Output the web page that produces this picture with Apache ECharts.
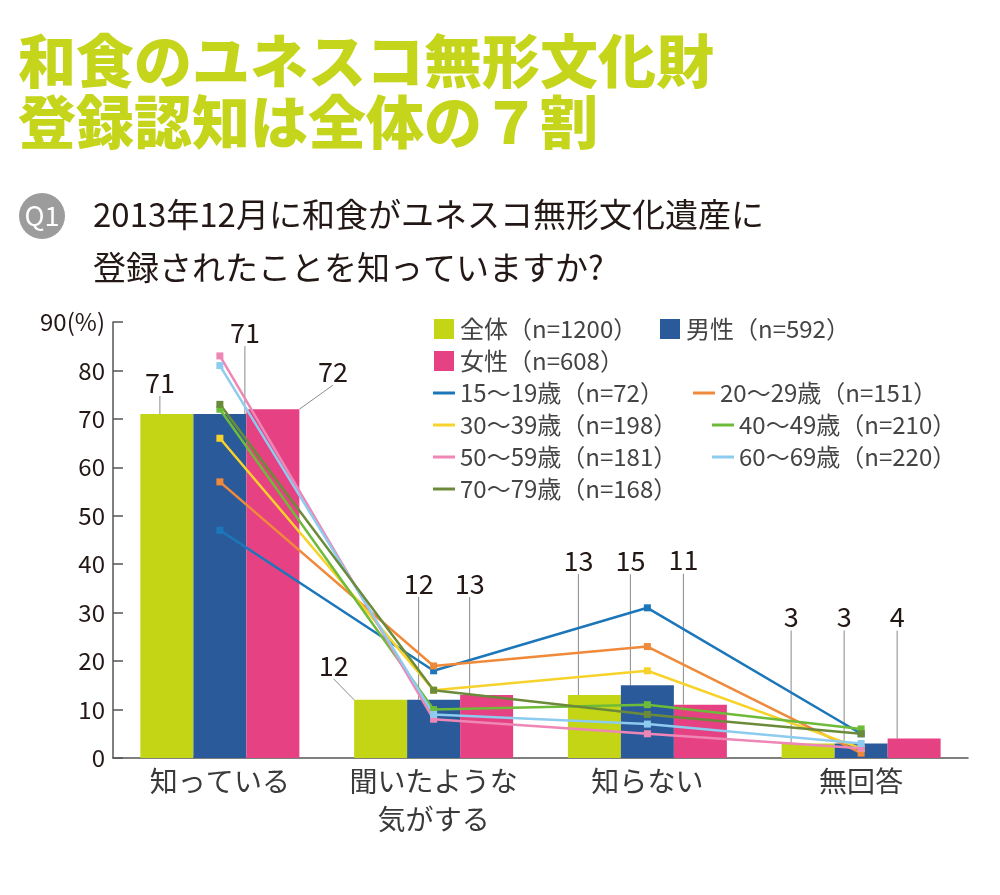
<!DOCTYPE html>
<html>
<head>
<meta charset="utf-8">
<script src="https://cdn.jsdelivr.net/npm/echarts@6/dist/echarts.min.js"></script>
<style>
  html, body { margin: 0; padding: 0; background: #fff; }
  #main { width: 1000px; height: 895px; }
</style>
</head>
<body>
<div id="main"></div>
<script>
// データ（％）
var categories = ['知っている', '聞いたような\n気がする', '知らない', '無回答'];
var yTicks = [0, 10, 20, 30, 40, 50, 60, 70, 80, 90];

var barNames = ['全体（n=1200）', '男性（n=592）', '女性（n=608）'];
var allValues = [71, 12, 13, 3];
var maleValues = [71, 12, 15, 3];
var femaleValues = [72, 13, 11, 4];

var ageNames = [
  '15〜19歳（n=72）', '20〜29歳（n=151）', '30〜39歳（n=198）', '40〜49歳（n=210）',
  '50〜59歳（n=181）', '60〜69歳（n=220）', '70〜79歳（n=168）'
];
var age15 = [47, 18, 31, 5];
var age20 = [57, 19, 23, 1];
var age30 = [66, 14, 18, 2];
var age40 = [72, 10, 11, 6];
var age50 = [83, 8, 5, 2];
var age60 = [81, 9, 7, 3];
var age70 = [73, 14, 9, 5];

var FONT = '"Noto Sans CJK JP", "Noto Sans", sans-serif';
var barColors = ['#c3d514', '#2b5a9b', '#e64182'];
var ageColors = ['#1b77b9', '#f0893a', '#f6d22a', '#6dbb38', '#ee87b5', '#8dcbef', '#6b8b3a'];

// 値ラベルの引き出し位置 [dx, dy]
var labelShift = [
  [[-7, -13], [-47, -16], [-16, -116], [-17, -108]],
  [[25, -63], [-15, -98], [-17, -106], [-17, -108]],
  [[60, -19], [-17, -93], [-17, -126], [-17, -103]]
];

var chart = echarts.init(document.getElementById('main'));

var squareIcon = 'path://M0,0H20V20H0Z';
var lineIcon = 'path://M0,0H22V3H0Z';
var legendText = { fontFamily: FONT, fontSize: 24, color: '#444', lineHeight: 24 };

function barSeries(idx, values) {
  return {
    name: barNames[idx],
    type: 'bar',
    data: values,
    barWidth: 53,
    barGap: '0%',
    itemStyle: { color: barColors[idx] },
    label: {
      show: true, position: 'top', distance: 5,
      fontFamily: FONT, fontSize: 27, color: '#231815'
    },
    labelLine: { show: true, length2: 0, lineStyle: { color: '#8a8a8a', width: 1 } },
    labelLayout: function (p) {
      var s = labelShift[idx][p.dataIndex];
      return { dx: s[0], dy: s[1] };
    },
    z: 2
  };
}

var ageData = [age15, age20, age30, age40, age50, age60, age70];
var lineSeries = ageData.map(function (vals, i) {
  return {
    name: ageNames[i],
    type: 'line',
    data: vals,
    symbol: 'rect',
    symbolSize: 7,
    showSymbol: true,
    itemStyle: { color: ageColors[i] },
    lineStyle: { color: ageColors[i], width: 2.5 },
    z: 5
  };
});

function legendItem(name, icon) { return { name: name, icon: icon }; }

chart.setOption({
  animation: false,
  textStyle: { fontFamily: FONT },
  title: [{
    text: '和食のユネスコ無形文化財\n登録認知は全体の７割',
    left: 18, top: 30, padding: 0,
    textStyle: { fontFamily: FONT, fontSize: 58, fontWeight: 900, color: '#c5d51b', lineHeight: 61 }
  }, {
    text: '2013年12月に和食がユネスコ無形文化遺産に\n登録されたことを知っていますか?',
    left: 93, top: 188, padding: 0,
    textStyle: { fontFamily: FONT, fontSize: 33, fontWeight: 'normal', color: '#231815', lineHeight: 53 }
  }],
  graphic: [{
    type: 'circle', shape: { cx: 42, cy: 216, r: 23 }, style: { fill: '#9c9c9c' }
  }, {
    type: 'text', x: 42, y: 216,
    style: { text: 'Q1', fill: '#fff', font: '27px ' + FONT, align: 'center', verticalAlign: 'middle' }
  }],
  legend: [{
    orient: 'vertical', left: 433, top: 317, padding: 0, itemGap: 8,
    itemWidth: 22, itemHeight: 20, textStyle: legendText,
    data: [
      legendItem(barNames[0], squareIcon), legendItem(barNames[2], squareIcon),
      legendItem(ageNames[0], lineIcon), legendItem(ageNames[2], lineIcon),
      legendItem(ageNames[4], lineIcon), legendItem(ageNames[6], lineIcon)
    ]
  }, {
    left: 660, top: 317, padding: 0, itemWidth: 22, itemHeight: 20, textStyle: legendText,
    data: [legendItem(barNames[1], squareIcon)]
  }, {
    left: 693, top: 381, padding: 0, itemWidth: 22, itemHeight: 20, textStyle: legendText,
    data: [legendItem(ageNames[1], lineIcon)]
  }, {
    orient: 'vertical', left: 712, top: 413, padding: 0, itemGap: 8,
    itemWidth: 22, itemHeight: 20, textStyle: legendText,
    data: [legendItem(ageNames[3], lineIcon), legendItem(ageNames[5], lineIcon)]
  }],
  grid: { left: 113, right: 32, top: 322, bottom: 137, containLabel: false },
  xAxis: {
    type: 'category',
    data: categories,
    axisLine: { lineStyle: { color: '#555', width: 1.5 } },
    axisTick: { inside: true, length: 8, lineStyle: { color: '#555', width: 1.5 } },
    axisLabel: { interval: 0, fontFamily: FONT, fontSize: 28, color: '#3a3a3a', lineHeight: 38, margin: 4 }
  },
  yAxis: {
    type: 'value',
    min: yTicks[0], max: yTicks[yTicks.length - 1], interval: 10,
    splitLine: { show: false },
    axisLine: { show: true, lineStyle: { color: '#555', width: 1.5 } },
    axisTick: { show: true, inside: true, length: 10, lineStyle: { color: '#555', width: 1.5 } },
    axisLabel: {
      fontFamily: FONT, fontSize: 24, color: '#231815', margin: 8,
      formatter: function (v) { return v === 90 ? '90(%)' : String(v); }
    }
  },
  series: [
    barSeries(0, allValues),
    barSeries(1, maleValues),
    barSeries(2, femaleValues)
  ].concat(lineSeries)
});
</script>
</body>
</html>
